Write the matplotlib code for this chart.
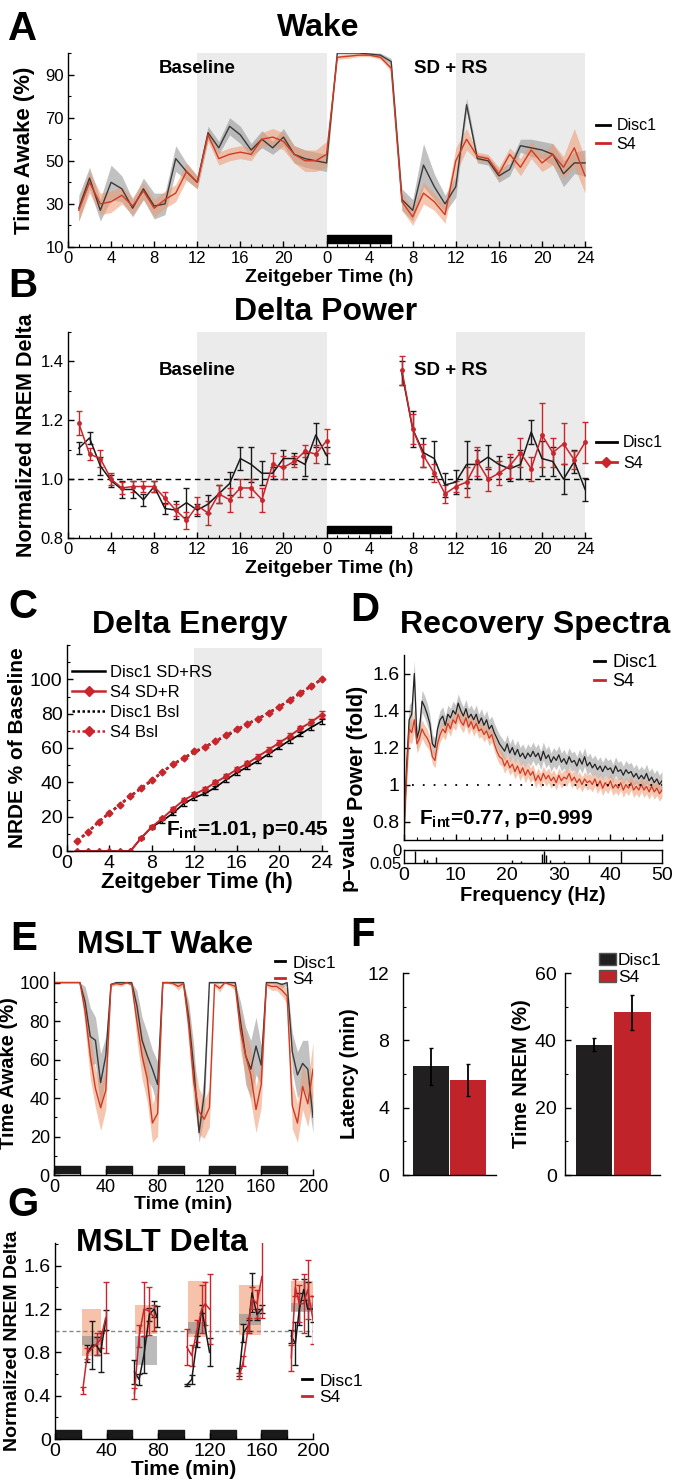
import numpy as np
import matplotlib
matplotlib.use("Agg")
import matplotlib.pyplot as plt
from matplotlib.lines import Line2D
from matplotlib.patches import Patch

plt.rcParams['font.family'] = ['Liberation Sans', 'DejaVu Sans']
plt.rcParams['mathtext.fontset'] = 'custom'
plt.rcParams['mathtext.rm'] = 'Liberation Sans'
plt.rcParams['mathtext.bf'] = 'Liberation Sans:bold'
plt.rcParams['xtick.direction'] = 'in'
plt.rcParams['ytick.direction'] = 'in'
plt.rcParams['axes.linewidth'] = 1.0

nan = np.nan

# ---------------- data ----------------
# A: wake, hourly, baseline ZT1-24 then SD+RS ZT1-24
wake_disc1 = [28, 42, 27, 40, 37, 28, 37, 29, 30, 51, 45, 40, 63, 56, 66, 62, 55, 60, 56, 61, 53, 51, 50, 49,
              100, 100, 100, 99.5, 99, 96, 32, 27, 48, 38, 30, 38, 76, 51, 50, 43, 46, 57, 56, 55, 53, 44, 49, 49]
wake_disc1_sem = [6, 5, 5, 8, 6, 4, 5, 6, 5, 6, 4, 3, 3, 3, 4, 4, 3, 4, 3, 4, 4, 4, 4, 4,
                  0.5, 0.5, 0.5, 0.7, 1, 1.5, 5, 5, 10, 6, 4, 5, 3, 2, 2, 3, 3, 3, 4, 4, 5, 6, 5, 6]
wake_s4 = [27, 40, 30, 31, 34, 29, 36, 28, 32, 35, 45, 40, 62, 51, 53, 54, 53, 60, 61, 59, 53, 50, 50, 53,
           98, 98.5, 99, 99, 98, 93, 31, 24, 35, 31, 25, 50, 60, 52, 51, 44, 53, 47, 55, 49, 53, 47, 56, 43]
wake_s4_sem = [5, 5, 5, 5, 4, 4, 4, 4, 4, 4, 4, 3, 3, 3, 3, 3, 3, 3, 4, 4, 4, 5, 5, 6,
               1, 1, 0.7, 0.7, 1, 1.5, 4, 4, 5, 4, 4, 6, 5, 2, 2, 3, 3, 4, 4, 4, 5, 5, 9, 8]
zt_labels = ['0', '4', '8', '12', '16', '20', '0', '4', '8', '12', '16', '20', '24']

# B: normalized NREM delta
delta_disc1 = [1.105, 1.14, 1.045, 0.995, 0.965, 0.965, 0.93, 0.975, 0.90, 0.895, 0.92, 0.895,
               0.915, 0.95, 0.985, 1.07, 1.05, 1.02, 1.02, 1.07, 1.07, 1.05, 1.15, 1.08,
               nan, nan, nan, nan, nan, nan, 1.36, 1.17, 1.09, 1.07, 0.98, 0.99,
               1.05, 1.05, 1.075, 1.05, 1.035, 1.05, 1.16, 1.07, 1.06, 1.0, 1.06, 0.965]
delta_disc1_sem = [0.02, 0.02, 0.03, 0.02, 0.03, 0.03, 0.02, 0.02, 0.02, 0.03, 0.05, 0.02,
                   0.03, 0.03, 0.04, 0.04, 0.06, 0.04, 0.02, 0.03, 0.02, 0.04, 0.04, 0.03,
                   nan, nan, nan, nan, nan, nan, 0.04, 0.06, 0.05, 0.06, 0.04, 0.04,
                   0.08, 0.05, 0.04, 0.03, 0.04, 0.05, 0.04, 0.06, 0.05, 0.05, 0.04, 0.04]
delta_s4 = [1.19, 1.085, 1.07, 1.0, 0.97, 0.975, 0.975, 0.975, 0.935, 0.895, 0.86, 0.91,
            0.885, 0.95, 0.93, 0.97, 0.97, 0.93, 1.05, 1.04, 1.06, 1.095, 1.085, 1.13,
            nan, nan, nan, nan, nan, nan, 1.37, 1.17, 1.08, 1.02, 0.95, 0.975,
            0.99, 1.06, 1.0, 1.02, 1.045, 1.09, 1.035, 1.15, 1.09, 1.12, 1.065, 1.125]
delta_s4_sem = [0.04, 0.02, 0.03, 0.02, 0.02, 0.02, 0.02, 0.02, 0.02, 0.02, 0.03, 0.03,
                0.04, 0.03, 0.04, 0.03, 0.03, 0.04, 0.04, 0.04, 0.02, 0.02, 0.03, 0.04,
                nan, nan, nan, nan, nan, nan, 0.05, 0.05, 0.04, 0.03, 0.03, 0.02,
                0.05, 0.05, 0.04, 0.04, 0.04, 0.05, 0.04, 0.11, 0.05, 0.07, 0.03, 0.07]

# C: delta energy (% of baseline)
c_disc1_sd = [0, 0, 0, 0, 0, 0, 7.5, 14, 17.5, 22, 27.5, 31, 33.5, 37, 41.5, 45.5, 49, 52.5,
              56.5, 60.5, 64.5, 68, 72, 75.5]
c_s4_sd = [0, 0, 0, 0, 0, 0, 7.5, 14, 19, 24.5, 29.5, 33, 36, 40, 43.5, 47.5, 51, 55,
           59, 63, 67, 71.5, 75, 79.5]
c_disc1_bsl = [6, 11, 17, 22, 27, 32, 36.5, 41, 46, 50.5, 54, 57.5, 60.5, 64, 67, 70.5, 74, 77,
               80.5, 84, 88, 92, 96, 100]
c_s4_bsl = [6, 11, 17, 22, 27, 32, 36.5, 41.5, 46, 50.5, 54, 58, 60.5, 64, 67.5, 71, 74, 77,
            80.5, 84, 88, 92, 96, 100]
c_disc1_sd_sem = [0, 0, 0, 0, 0, 0, 0.8, 0.8, 0.9, 0.9, 1, 1, 1, 1.1, 1.1, 1.1, 1.2, 1.2,
                  1.2, 1.3, 1.3, 1.3, 1.4, 1.4]
c_s4_sd_sem = [0, 0, 0, 0, 0, 0, 0.8, 0.9, 1, 1, 1.1, 1.1, 1.2, 1.2, 1.2, 1.3, 1.3, 1.4,
               1.4, 1.5, 1.6, 1.6, 1.7, 1.8]

# D: recovery spectra, 0-50 Hz in 0.5 Hz bins
spec_disc1 = [0.75, 1.10, 1.35, 1.38, 1.60, 1.25, 1.30, 1.45, 1.42, 1.38,
              1.33, 1.22, 1.20, 1.30, 1.35, 1.37, 1.32, 1.38, 1.36, 1.40,
              1.38, 1.44, 1.40, 1.37, 1.41, 1.36, 1.38, 1.35, 1.38, 1.33,
              1.36, 1.32, 1.35, 1.30, 1.32, 1.28, 1.25, 1.22, 1.20, 1.18,
              1.22, 1.17, 1.20, 1.16, 1.19, 1.15, 1.17, 1.14, 1.17, 1.15,
              1.18, 1.15, 1.17, 1.13, 1.18, 1.14, 1.16, 1.12, 1.15, 1.13,
              1.16, 1.12, 1.14, 1.11, 1.15, 1.12, 1.13, 1.10, 1.14, 1.11,
              1.15, 1.10, 1.12, 1.09, 1.11, 1.08, 1.10, 1.07, 1.10, 1.08,
              1.09, 1.06, 1.10, 1.07, 1.08, 1.05, 1.08, 1.06, 1.07, 1.04,
              1.06, 1.03, 1.05, 1.03, 1.06, 1.02, 1.04, 1.01, 1.03, 1.00,
              1.02]
spec_s4 = [0.75, 1.05, 1.30, 1.28, 1.35, 1.22, 1.25, 1.30, 1.27, 1.25,
           1.22, 1.15, 1.13, 1.22, 1.27, 1.30, 1.28, 1.33, 1.30, 1.35,
           1.33, 1.38, 1.34, 1.32, 1.36, 1.31, 1.34, 1.30, 1.33, 1.29,
           1.30, 1.27, 1.29, 1.25, 1.27, 1.22, 1.18, 1.15, 1.14, 1.10,
           1.13, 1.09, 1.11, 1.07, 1.10, 1.06, 1.09, 1.05, 1.08, 1.05,
           1.07, 1.02, 1.05, 1.02, 1.06, 1.03, 1.05, 1.02, 1.04, 1.01,
           1.05, 1.02, 1.04, 1.03, 1.06, 1.02, 1.04, 1.01, 1.03, 1.00,
           1.03, 1.01, 1.02, 1.00, 1.03, 0.99, 1.02, 0.98, 1.01, 0.99,
           1.02, 0.98, 1.00, 0.98, 1.01, 0.97, 1.00, 0.98, 1.01, 0.97,
           0.99, 0.97, 1.00, 0.97, 0.99, 0.96, 0.99, 0.96, 0.98, 0.95,
           0.97]
spec_disc1_sem = [0.08, 0.08, 0.08, 0.07, 0.07, 0.06, 0.06, 0.06, 0.06, 0.06,
                  0.05, 0.05, 0.05, 0.05, 0.05, 0.05, 0.05, 0.05, 0.05, 0.05,
                  0.05, 0.05, 0.05, 0.05, 0.05, 0.05, 0.05, 0.05, 0.05, 0.05,
                  0.05, 0.05, 0.05, 0.05, 0.05, 0.05, 0.05, 0.05, 0.05, 0.05,
                  0.05, 0.05, 0.05, 0.05, 0.05, 0.05, 0.05, 0.05, 0.05, 0.05,
                  0.05, 0.05, 0.05, 0.05, 0.05, 0.05, 0.05, 0.05, 0.05, 0.05,
                  0.05, 0.05, 0.05, 0.05, 0.05, 0.05, 0.05, 0.05, 0.05, 0.05,
                  0.05, 0.05, 0.05, 0.05, 0.05, 0.05, 0.05, 0.05, 0.05, 0.05,
                  0.05, 0.05, 0.05, 0.05, 0.05, 0.05, 0.05, 0.05, 0.05, 0.05,
                  0.05, 0.05, 0.05, 0.05, 0.05, 0.05, 0.05, 0.05, 0.05, 0.05,
                  0.05]
spec_s4_sem = [0.07, 0.07, 0.07, 0.06, 0.06, 0.05, 0.05, 0.05, 0.05, 0.05,
               0.04, 0.04, 0.04, 0.04, 0.04, 0.04, 0.04, 0.04, 0.04, 0.04,
               0.04, 0.04, 0.04, 0.04, 0.04, 0.04, 0.04, 0.04, 0.04, 0.04,
               0.04, 0.04, 0.04, 0.04, 0.04, 0.04, 0.04, 0.04, 0.04, 0.04,
               0.04, 0.04, 0.04, 0.04, 0.04, 0.04, 0.04, 0.04, 0.04, 0.04,
               0.04, 0.04, 0.04, 0.04, 0.04, 0.04, 0.04, 0.04, 0.04, 0.04,
               0.04, 0.04, 0.04, 0.04, 0.04, 0.04, 0.04, 0.04, 0.04, 0.04,
               0.04, 0.04, 0.04, 0.04, 0.04, 0.04, 0.04, 0.04, 0.04, 0.04,
               0.04, 0.04, 0.04, 0.04, 0.04, 0.04, 0.04, 0.04, 0.04, 0.04,
               0.04, 0.04, 0.04, 0.04, 0.04, 0.04, 0.04, 0.04, 0.04, 0.04,
               0.04]
p_freq = [2.1, 3.9, 4.4, 6.2, 21.0, 22.6, 26.7, 27.1, 27.5, 28.3, 31.0, 35.9, 42.0]
p_vals = [0.003, 0.035, 0.04, 0.025, 0.04, 0.042, 0.015, 0.004, 0.02, 0.04, 0.042, 0.02, 0.004]

# E: MSLT wake, 4-min bins
e_disc1 = [100, 100, 100, 100, 100, 100, 90, 72, 70, 48, 62,
           99, 100, 100, 100, 100, 88, 70, 62, 55, 47,
           100, 100, 100, 100, 100, 82, 55, 22, 42,
           100, 100, 100, 100, 100, 100, 80, 62, 55, 67, 57,
           100, 100, 100, 99, 100, 64, 52, 58, 55, 30]
e_disc1_sem = [0, 0, 0, 0, 0, 0, 8, 15, 12, 15, 10,
               1, 0.5, 0.5, 0.5, 0.5, 8, 12, 12, 10, 12,
               0.5, 0.5, 0.5, 0.5, 0.5, 8, 12, 5, 12,
               0.5, 0.5, 0.5, 0.5, 0.5, 0.5, 10, 15, 15, 15, 10,
               0.5, 0.5, 1, 2, 1, 10, 12, 12, 15, 8]
e_s4 = [100, 100, 100, 100, 100, 100, 85, 62, 45, 35, 44,
        99, 99.5, 99, 100, 99, 80, 62, 50, 27, 32,
        100, 100, 99.5, 98, 99.5, 78, 48, 33, 29,
        35, 99, 97, 100, 99, 98, 75, 62, 52, 34, 47,
        99, 98, 98, 96, 93, 36, 27, 46, 37, 55]
e_s4_sem = [0, 0, 0, 0, 0, 0, 8, 12, 10, 12, 10,
            1, 1, 1, 0.5, 1, 10, 12, 12, 10, 12,
            0.5, 0.5, 1, 2, 1, 10, 12, 12, 10,
            10, 1, 2, 0.5, 1, 2, 10, 12, 14, 12, 12,
            1, 2, 2, 3, 4, 12, 10, 12, 12, 14]
nap_starts = [0, 40, 80, 120, 160]

# F: MSLT bars
groups = ['Disc1', 'S4']
latency = [6.45, 5.65]
latency_sem = [1.1, 0.95]
nrem = [38.7, 48.3]
nrem_sem = [1.9, 5.3]

# G: MSLT delta, per nap
g_t_disc1 = [25.1, 29.0, 32.3, 35.4, 39.3, nan,
             61.6, 65.2, 69.0, 73.2, 76.8, 79.0, nan,
             102.2, 106.0, 110.0, 113.8, 119.8, nan,
             143.0, 146.0, 150.0, 152.7, 156.5, 160.4, nan,
             183.2, 186.3, 189.4, 192.8, 195.9, 200.0]
g_disc1 = [0.79, 0.87, 0.86, 0.80, 1.10, nan,
           0.62, 0.55, 0.78, 1.15, 1.20, 1.13, nan,
           0.50, 0.55, 0.90, 1.20, 0.80, nan,
           0.62, 0.98, 1.05, 1.35, 1.15, 1.20, nan,
           0.95, 0.88, 1.20, 1.38, 1.20, 1.20]
g_disc1_sem = [0.08, 0.22, 0.08, 0.18, 0.09, nan,
               0.11, 0.05, 0.17, 0.06, 0.07, 0.10, nan,
               0.01, 0.04, 0.05, 0.04, 0.13, nan,
               0.04, 0.08, 0.05, 0.18, 0.05, 0.04, nan,
               0.06, 0.20, 0.15, 0.10, 0.25, 0.12]
g_t_s4 = [21.5, 25.1, 32.3, 35.4, 39.3, nan,
          61.6, 65.2, 69.0, 73.2, 76.8, nan,
          102.2, 106.0, 110.0, 113.8, 116.4, 119.8, nan,
          143.0, 146.0, 150.0, 152.7, 156.5, 160.4, nan,
          183.2, 186.3, 189.4, 192.8, 195.9, 200.0]
g_s4 = [0.45, 0.79, 0.88, 0.92, 1.12, nan,
        0.42, 0.95, 1.20, 1.18, 1.12, nan,
        0.85, 0.77, 1.00, 1.20, 1.25, 1.20, nan,
        0.58, 0.72, 1.05, 1.30, 1.25, 1.50, nan,
        0.75, 1.40, 1.25, 1.25, 1.38, 1.10]
g_s4_sem = [0.03, 0.05, 0.10, 0.08, 0.33, nan,
            0.05, 0.10, 0.25, 0.22, 0.12, nan,
            0.17, 0.10, 0.10, 0.22, 0.20, 0.32, nan,
            0.03, 0.05, 0.07, 0.10, 0.13, 0.38, nan,
            0.12, 0.08, 0.17, 0.27, 0.27, 0.22]
band_start = [21, 62, 103, 143, 183]
band_end = [36, 79, 118, 160, 200]
s4_band_lo = [0.77, 0.97, 0.94, 0.96, 1.18]
s4_band_hi = [1.20, 1.24, 1.46, 1.42, 1.46]
disc1_band_lo = [0.87, 0.68, 0.97, 1.05, 1.17]
disc1_band_hi = [0.95, 0.95, 1.08, 1.15, 1.26]

# ---------------- style ----------------
DARK = '#3a3a3a'
RED = '#c8262c'
RED_LINE = '#d03a25'
GRAY_FILL = '#8f8f8f'
ORANGE_FILL = '#f09a70'
SHADE = '#ebebeb'
BAR_BLACK = '#221f20'
BAR_RED = '#c1232b'

W, H = 675, 1482
fig = plt.figure(figsize=(W / 100, H / 100), dpi=100)


def box(l, t, r, b):
    return fig.add_axes([l / W, 1 - b / H, (r - l) / W, (b - t) / H])


def ftext(x, y, s, **kw):
    fig.text(x / W, 1 - y / H, s, **kw)


def style(ax, size=12):
    ax.spines['top'].set_visible(False)
    ax.spines['right'].set_visible(False)
    ax.tick_params(which='major', length=4, width=1, labelsize=size, pad=3)
    ax.tick_params(which='minor', length=2, width=0.8)


def panel_letter(x, y, s):
    ftext(x, y, s, fontsize=29, fontweight='bold', va='top', ha='left')


def title(x, y, s):
    ftext(x, y, s, fontsize=23, fontweight='bold', va='center', ha='center')


hours = np.arange(1, 49)

# ---------------- A ----------------
axA = box(68, 53, 591, 247)
for s in (12, 36):
    axA.axvspan(s, s + 12, color=SHADE, lw=0, zorder=0)
d1 = np.array(wake_disc1)
d1s = np.array(wake_disc1_sem)
s4 = np.array(wake_s4)
s4s = np.array(wake_s4_sem)
axA.fill_between(hours, d1 - d1s, d1 + d1s, color=GRAY_FILL, alpha=0.55, lw=0)
axA.plot(hours, d1, color=DARK, lw=1)
axA.fill_between(hours, s4 - s4s, s4 + s4s, color=ORANGE_FILL, alpha=0.55, lw=0)
axA.plot(hours, s4, color=RED_LINE, lw=1)
axA.broken_barh([(24, 6)], (11.8, 3.7), color='black')
axA.set_xlim(0, 48.55)
axA.set_ylim(10, 100)
axA.set_xticks(np.arange(0, 49, 4))
axA.set_xticklabels(zt_labels)
axA.set_xticks(np.arange(0, 49, 1), minor=True)
axA.set_yticks([10, 30, 50, 70, 90])
axA.set_yticks([20, 40, 60, 80, 100], minor=True)
style(axA, size=12)
axA.set_ylabel('Time Awake (%)', fontsize=16, fontweight='bold', labelpad=7)
axA.set_xlabel('Zeitgeber Time (h)', fontsize=14, fontweight='bold', labelpad=2)
axA.text(12, 93, 'Baseline', fontsize=13.5, fontweight='bold', ha='center', va='center')
axA.text(35.5, 93, 'SD + RS', fontsize=13.5, fontweight='bold', ha='center', va='center')
axA.legend(handles=[Line2D([], [], color='black', lw=2), Line2D([], [], color=RED, lw=2)],
           labels=groups, loc='center left', bbox_to_anchor=(596 / W, 1 - 135 / H),
           bbox_transform=fig.transFigure, frameon=False, fontsize=11.5, handlelength=0.9,
           handletextpad=0.4, borderpad=0, borderaxespad=0, labelspacing=0.2)
panel_letter(8, 10, 'A')
title(318, 28, 'Wake')

# ---------------- B ----------------
axB = box(68, 332, 591, 538)
for s in (12, 36):
    axB.axvspan(s, s + 12, color=SHADE, lw=0, zorder=0)
axB.axhline(1.0, color='black', ls=(0, (4, 3)), lw=1)
axB.errorbar(hours, delta_disc1, yerr=delta_disc1_sem, color='#1a1a1a', lw=1.1,
             elinewidth=1, capsize=2)
axB.errorbar(hours, delta_s4, yerr=delta_s4_sem, color=RED, lw=1.1, elinewidth=1,
             capsize=2, marker='o', ms=2.5)
axB.broken_barh([(24, 6)], (0.816, 0.026), color='black')
axB.set_xlim(0, 48.55)
axB.set_ylim(0.8, 1.5)
axB.set_xticks(np.arange(0, 49, 4))
axB.set_xticklabels(zt_labels)
axB.set_xticks(np.arange(0, 49, 1), minor=True)
axB.set_yticks([0.8, 1.0, 1.2, 1.4])
axB.set_yticks([0.9, 1.1, 1.3, 1.5], minor=True)
style(axB, size=12)
axB.set_ylabel('Normalized NREM Delta', fontsize=15.5, fontweight='bold', labelpad=3)
axB.set_xlabel('Zeitgeber Time (h)', fontsize=14, fontweight='bold', labelpad=2)
axB.text(12, 1.37, 'Baseline', fontsize=13.5, fontweight='bold', ha='center', va='center')
axB.text(35.5, 1.37, 'SD + RS', fontsize=13.5, fontweight='bold', ha='center', va='center')
axB.legend(handles=[Line2D([], [], color='black', lw=2),
                    Line2D([], [], color=RED, lw=2, marker='D', ms=5)],
           labels=groups, loc='center left', bbox_to_anchor=(596 / W, 1 - 453 / H),
           bbox_transform=fig.transFigure, frameon=False, fontsize=11.5, handlelength=1.3,
           handletextpad=0.4, borderpad=0, borderaxespad=0, labelspacing=0.35)
panel_letter(8, 267, 'B')
title(326, 312, 'Delta Power')

# ---------------- C ----------------
czt = np.arange(1, 25)
axC = box(66.7, 645, 327, 851)
axC.axvspan(12, 24, ymax=118 / 120, color=SHADE, lw=0, zorder=0)
axC.plot(czt, c_disc1_bsl, color='black', ls=(0, (1.2, 1.2)), lw=1.8)
axC.plot(czt, c_s4_bsl, color=RED, ls=(0, (1.2, 1.2)), lw=1.8, marker='D', ms=3.5)
axC.errorbar(czt, c_disc1_sd, yerr=c_disc1_sd_sem, color='black', lw=1.2, elinewidth=0.9,
             capsize=2)
axC.errorbar(czt, c_s4_sd, yerr=c_s4_sd_sem, color=RED, lw=1.4, elinewidth=0.9, capsize=2,
             marker='D', ms=3)
axC.set_xlim(0, 24.5)
axC.set_ylim(0, 120)
axC.set_xticks(np.arange(0, 25, 4))
axC.set_xticks(np.arange(0, 25, 2), minor=True)
axC.set_yticks(np.arange(0, 101, 20))
axC.set_yticks(np.arange(10, 121, 10), minor=True)
style(axC, size=14)
axC.set_ylabel('NRDE % of Baseline', fontsize=15, fontweight='bold', labelpad=2)
axC.set_xlabel('Zeitgeber Time (h)', fontsize=16, fontweight='bold', labelpad=0)
axC.text(9.3, 12, r'$\mathbf{F_{int}}$=1.01, p=0.45', fontsize=15, fontweight='bold',
         ha='left', va='center')
axC.legend(handles=[Line2D([], [], color='black', lw=1.8),
                    Line2D([], [], color=RED, lw=1.8, marker='D', ms=5),
                    Line2D([], [], color='black', lw=1.8, ls=(0, (1, 1))),
                    Line2D([], [], color=RED, lw=1.8, ls=(0, (1, 1)), marker='D', ms=5)],
           labels=['Disc1 SD+RS', 'S4 SD+R', 'Disc1 Bsl', 'S4 Bsl'],
           loc='upper left', bbox_to_anchor=(72 / W, 1 - 665 / H),
           bbox_transform=fig.transFigure, frameon=False, fontsize=12, handlelength=2.0,
           handletextpad=0.3, borderpad=0, borderaxespad=0, labelspacing=0.3)
panel_letter(8, 588, 'C')
title(190, 625, 'Delta Energy')

# ---------------- D ----------------
freq = np.arange(0, 50.5, 0.5)
axD = box(404, 655, 662, 840)
sd1 = np.array(spec_disc1)
sd1s = np.array(spec_disc1_sem)
ss4 = np.array(spec_s4)
ss4s = np.array(spec_s4_sem)
axD.fill_between(freq, sd1 - sd1s, sd1 + sd1s, color=GRAY_FILL, alpha=0.5, lw=0)
axD.fill_between(freq, ss4 - ss4s, ss4 + ss4s, color=ORANGE_FILL, alpha=0.55, lw=0)
axD.plot(freq, sd1, color='#222222', lw=0.9)
axD.plot(freq, ss4, color=RED_LINE, lw=0.9)
axD.hlines(1.0, 1.5, 50, color='black', ls=(0, (1, 5)), lw=1.3)
axD.set_xlim(0, 50)
axD.set_ylim(0.7, 1.7)
axD.set_xticks(np.arange(0, 51, 10))
axD.set_xticks(np.arange(0, 51, 2.5), minor=True)
axD.tick_params(axis='x', labelbottom=False)
axD.set_yticks([0.8, 1.0, 1.2, 1.4, 1.6])
axD.set_yticklabels(['0.8', '1', '1.2', '1.4', '1.6'])
style(axD, size=14)
axD.set_ylabel('Power (fold)', fontsize=15.5, fontweight='bold', labelpad=3)
axD.text(3, 0.815, r'$\mathbf{F_{int}}$=0.77, p=0.999', fontsize=15, fontweight='bold',
         ha='left', va='center')
axD.legend(handles=[Line2D([], [], color='black', lw=2), Line2D([], [], color=RED, lw=2)],
           labels=groups, loc='center left', bbox_to_anchor=(594 / W, 1 - 672 / H),
           bbox_transform=fig.transFigure, frameon=False, fontsize=13, handlelength=0.6,
           handletextpad=0.4, borderpad=0, borderaxespad=0, labelspacing=0.1)
axP = box(404, 850, 662, 863)
axP.vlines(p_freq, p_vals, 0.05, color='black', lw=1)
axP.set_xlim(0, 50)
axP.set_ylim(0.05, 0)
axP.set_yticks([0, 0.05])
axP.set_yticklabels(['0', '0.05'])
axP.set_xticks(np.arange(0, 51, 10))
axP.tick_params(axis='x', length=0, labelsize=14, pad=3)
axP.tick_params(axis='y', length=0, labelsize=12, pad=2)
axP.set_xlabel('Frequency (Hz)', fontsize=14.5, fontweight='bold', labelpad=1)
ftext(348, 852, 'p\u2013value', fontsize=15, fontweight='bold', rotation=90,
      ha='center', va='center')
panel_letter(350, 591, 'D')
title(535, 625, 'Recovery Spectra')

# ---------------- E ----------------
te = np.arange(0, 201, 4)
axE = box(54, 972, 313, 1175)
ed1 = np.array(e_disc1)
ed1s = np.array(e_disc1_sem)
es4 = np.array(e_s4)
es4s = np.array(e_s4_sem)
axE.fill_between(te, ed1 - ed1s, np.minimum(ed1 + ed1s, 100), color=GRAY_FILL, alpha=0.55, lw=0)
axE.plot(te, ed1, color=DARK, lw=1)
axE.fill_between(te, es4 - es4s, np.minimum(es4 + es4s, 100), color=ORANGE_FILL, alpha=0.55, lw=0)
axE.plot(te, es4, color=RED_LINE, lw=1)
axE.broken_barh([(s, 20) for s in nap_starts], (0.9, 3.8), color='#1a1a1a')
axE.set_xlim(0, 200)
axE.set_ylim(0, 105.5)
axE.set_xticks(np.arange(0, 201, 40))
axE.set_xticks(np.arange(0, 201, 20), minor=True)
axE.set_yticks(np.arange(0, 101, 20))
axE.set_yticks(np.arange(10, 101, 10), minor=True)
style(axE, size=13)
axE.set_ylabel('Time Awake (%)', fontsize=14.5, fontweight='bold', labelpad=1)
axE.set_xlabel('Time (min)', fontsize=14, fontweight='bold', labelpad=0)
axE.legend(handles=[Line2D([], [], color='black', lw=2), Line2D([], [], color=RED, lw=2)],
           labels=groups, loc='center left', bbox_to_anchor=(275 / W, 1 - 971 / H),
           bbox_transform=fig.transFigure, frameon=False, fontsize=12.5, handlelength=0.6,
           handletextpad=0.4, borderpad=0, borderaxespad=0, labelspacing=0.05)
panel_letter(10, 920, 'E')
title(165, 945, 'MSLT Wake')

# ---------------- F ----------------
bar_colors = [BAR_BLACK, BAR_RED]
axF1 = box(403, 973, 496, 1175)
axF1.bar([1, 2], latency, width=0.95, color=bar_colors, yerr=latency_sem,
         error_kw=dict(ecolor='black', elinewidth=1.3, capsize=1.5))
axF1.set_xlim(0.27, 2.73)
axF1.set_ylim(0, 12)
axF1.set_xticks([])
axF1.set_yticks([0, 4, 8, 12])
axF1.set_yticks([2, 6, 10], minor=True)
style(axF1, size=14)
axF1.tick_params(axis='y', pad=10)
axF1.set_ylabel('Latency (min)', fontsize=14.5, fontweight='bold', labelpad=6)

axF2 = box(565, 973, 660, 1175)
axF2.bar([1, 2], nrem, width=0.95, color=bar_colors, yerr=nrem_sem,
         error_kw=dict(ecolor='black', elinewidth=1.3, capsize=1.5))
axF2.set_xlim(0.25, 2.72)
axF2.set_ylim(0, 60)
axF2.set_xticks([])
axF2.set_yticks([0, 20, 40, 60])
axF2.set_yticks([10, 30, 50], minor=True)
style(axF2, size=14)
axF2.tick_params(axis='y', pad=6)
axF2.set_ylabel('Time NREM (%)', fontsize=14.5, fontweight='bold', labelpad=3)
axF2.legend(handles=[Patch(facecolor=BAR_BLACK, edgecolor='#555555'),
                     Patch(facecolor=BAR_RED, edgecolor='#555555')],
            labels=groups, loc='center left', bbox_to_anchor=(599 / W, 1 - 969 / H),
            bbox_transform=fig.transFigure, frameon=False, fontsize=12.5, handlelength=1.0,
            handleheight=0.7, handletextpad=0.1, borderpad=0, borderaxespad=0,
            labelspacing=0.1)
panel_letter(350, 916, 'F')

# ---------------- G ----------------
axG = box(55, 1243, 313, 1439)
for i in range(len(band_start)):
    axG.fill_between([band_start[i], band_end[i]], s4_band_lo[i], s4_band_hi[i],
                     color=ORANGE_FILL, alpha=0.6, lw=0)
    axG.fill_between([band_start[i], band_end[i]], disc1_band_lo[i], disc1_band_hi[i],
                     color=GRAY_FILL, alpha=0.6, lw=0)
axG.axhline(1.0, color='#888888', ls=(0, (3, 2)), lw=1)
axG.errorbar(g_t_disc1, g_disc1, yerr=g_disc1_sem, color='#1a1a1a', lw=1.1,
             elinewidth=1, capsize=2)
axG.errorbar(g_t_s4, g_s4, yerr=g_s4_sem, color=RED, lw=1.1, elinewidth=1, capsize=2)
axG.broken_barh([(s, 20) for s in nap_starts], (0, 0.085), color='#1a1a1a')
axG.set_xlim(0, 200)
axG.set_ylim(0, 1.81)
axG.set_xticks(np.arange(0, 201, 40))
axG.set_xticks(np.arange(0, 201, 20), minor=True)
axG.set_yticks([0, 0.4, 0.8, 1.2, 1.6])
axG.set_yticklabels(['0', '0.4', '0.8', '1.2', '1.6'])
axG.set_yticks([0.2, 0.6, 1.0, 1.4, 1.8], minor=True)
style(axG, size=14)
axG.set_ylabel('Normalized NREM Delta', fontsize=14, fontweight='bold', labelpad=2)
axG.set_xlabel('Time (min)', fontsize=15, fontweight='bold', labelpad=0)
axG.legend(handles=[Line2D([], [], color='black', lw=2), Line2D([], [], color=RED, lw=2)],
           labels=groups, loc='center left', bbox_to_anchor=(302 / W, 1 - 1389 / H),
           bbox_transform=fig.transFigure, frameon=False, fontsize=12.5, handlelength=0.6,
           handletextpad=0.4, borderpad=0, borderaxespad=0, labelspacing=0.05)
panel_letter(7, 1186, 'G')
title(162, 1243, 'MSLT Delta')

fig.savefig('out.png', dpi=100)
